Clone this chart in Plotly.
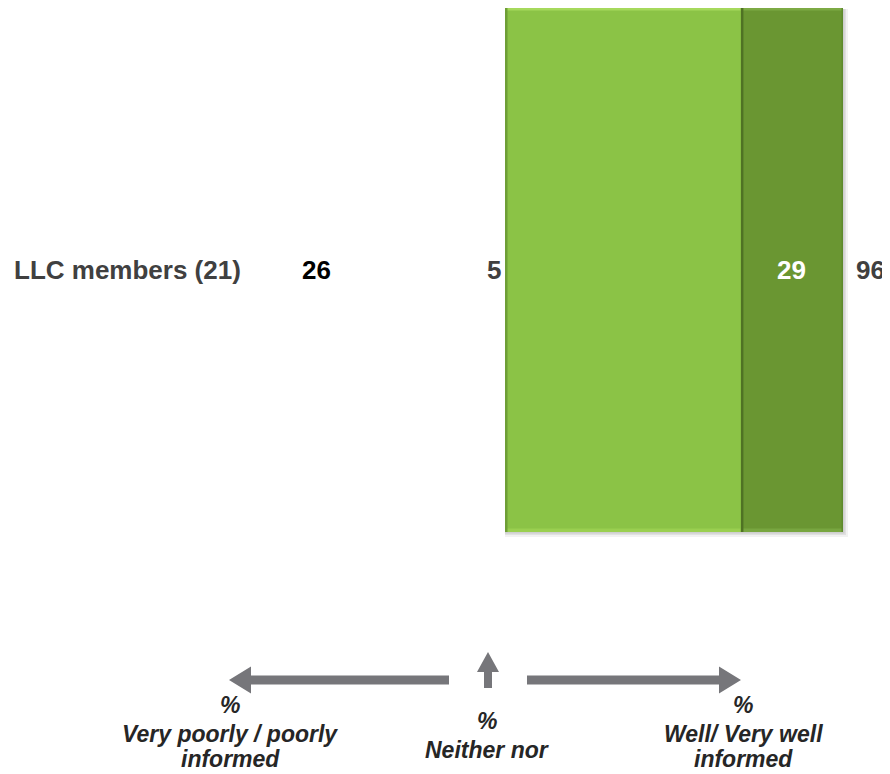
import plotly.graph_objects as go

# ---- data ----
categories = ["LLC members (21)"]
poorly = [26]          # Very poorly / poorly informed
neither = [5]          # Neither nor
well = [67]            # Well informed
very_well = [29]       # Very well informed
total_well = [96]      # Well / Very well informed

bottom_labels = [["%", "Very poorly / poorly", "informed"],
                 ["%", "Neither nor"],
                 ["%", "Well/ Very well", "informed"]]

# page has an 8px body margin -> figure drawn 8px right/down of page origin
OFF = 8
W, H = 890 - OFF, 774 - OFF
BAR_TOP_PAGE, BAR_BOT_PAGE = 8, 532
M_L, M_R = 0, 0
M_T = BAR_TOP_PAGE - OFF
M_B = H - (BAR_BOT_PAGE - OFF)
PX_PER_UNIT = 338 / 96.0
ZERO_PAGE = 505
ZERO_FIG = ZERO_PAGE - OFF
PLOT_W = W - M_L - M_R
x_range = [-(ZERO_FIG - M_L) / PX_PER_UNIT, (PLOT_W - (ZERO_FIG - M_L)) / PX_PER_UNIT]


def pxx(x_page):
    return (x_page - OFF - M_L) / PLOT_W


def pyy(y_page):
    return (H - M_B - (y_page - OFF)) / (H - M_T - M_B)


FONT = "Liberation Sans, Arial, sans-serif"

fig = go.Figure()
fig.add_trace(go.Bar(
    y=categories, x=well, orientation="h", name="Well informed",
    marker=dict(color="#8BC346", line=dict(width=0)),
    width=1, hoverinfo="skip",
))
fig.add_trace(go.Bar(
    y=categories, x=very_well, orientation="h", name="Very well informed",
    marker=dict(color="#6A9632", line=dict(width=0)),
    width=1, hoverinfo="skip",
))

shapes = []
# soft drop shadow behind the bar
for d, op in [(5, 0.10), (3, 0.14), (1.5, 0.18)]:
    shapes.append(dict(type="rect", xref="x", yref="paper", layer="below",
                       x0=0, x1=well[0] + very_well[0] + d / PX_PER_UNIT,
                       y0=pyy(BAR_BOT_PAGE + d), y1=pyy(BAR_TOP_PAGE + 1),
                       fillcolor="#808080", opacity=op, line=dict(width=0)))
# bevel strips on each segment
segs = [(0, well[0], "#A6D95C", "#9ACF50", "#6E9E36"),
        (well[0], well[0] + very_well[0], "#7DAA44", "#78A640", "#4F7224")]
for x0, x1, top_c, bot_c, left_c in segs:
    shapes.append(dict(type="rect", xref="x", yref="paper", layer="above",
                       x0=x0, x1=x1, y0=pyy(BAR_TOP_PAGE + 2.5), y1=pyy(BAR_TOP_PAGE),
                       fillcolor=top_c, line=dict(width=0)))
    shapes.append(dict(type="rect", xref="x", yref="paper", layer="above",
                       x0=x0, x1=x1, y0=pyy(BAR_BOT_PAGE), y1=pyy(BAR_BOT_PAGE - 3.5),
                       fillcolor=bot_c, line=dict(width=0)))
    shapes.append(dict(type="rect", xref="x", yref="paper", layer="above",
                       x0=x0, x1=x0 + 2.5 / PX_PER_UNIT, y0=pyy(BAR_BOT_PAGE), y1=pyy(BAR_TOP_PAGE),
                       fillcolor=left_c, line=dict(width=0)))
# right edge darker
shapes.append(dict(type="rect", xref="x", yref="paper", layer="above",
                   x0=well[0] + very_well[0] - 1.5 / PX_PER_UNIT, x1=well[0] + very_well[0],
                   y0=pyy(BAR_BOT_PAGE), y1=pyy(BAR_TOP_PAGE),
                   fillcolor="#5E8A2C", line=dict(width=0)))

ann = []
lab_font = dict(family=FONT, size=26, color="#404040")
ann.append(dict(x=0, y=categories[0], xref="x", yref="y", text="<b>%s</b>" % categories[0],
                showarrow=False, xanchor="right", yanchor="middle", xshift=-262,
                font=lab_font))
ann.append(dict(x=0, y=categories[0], xref="x", yref="y", text="<b>%d</b>" % poorly[0],
                showarrow=False, xanchor="center", yanchor="middle", xshift=-189,
                font=dict(family=FONT, size=26, color="#000000")))
ann.append(dict(x=0, y=categories[0], xref="x", yref="y", text="<b>%d</b>" % neither[0],
                showarrow=False, xanchor="right", yanchor="middle", xshift=-2,
                font=lab_font))
ann.append(dict(x=well[0] + very_well[0] / 2, y=categories[0], xref="x", yref="y",
                text="<b>%d</b>" % very_well[0], showarrow=False, xanchor="center", yanchor="middle",
                font=dict(family=FONT, size=26, color="#FFFFFF")))
ann.append(dict(x=well[0] + very_well[0], y=categories[0], xref="x", yref="y",
                text="<b>%d</b>" % total_well[0], showarrow=False, xanchor="left", yanchor="middle",
                xshift=11, font=lab_font))

bot_font = dict(family=FONT, size=23, color="#262626")
blocks = [(230, [705, 734, 759]), (487, [721, 750]), (743, [705, 734, 759])]
for (cx, ys), lines in zip(blocks, bottom_labels):
    for cy, line in zip(ys, lines):
        ann.append(dict(x=pxx(cx), y=pyy(cy), xref="paper", yref="paper",
                        text="<b><i>%s</i></b>" % line, showarrow=False, borderpad=0,
                        xanchor="center", yanchor="middle", align="center", font=bot_font))

AC = "#76767A"


def path(points):
    return "M " + " L ".join("%f,%f" % (pxx(x), pyy(y)) for x, y in points) + " Z"


ay = 680
shapes.append(dict(type="path", xref="paper", yref="paper", fillcolor=AC, line=dict(width=0),
                   path=path([(449, ay - 4.5), (251, ay - 4.5), (251, ay - 13.5), (229, ay),
                              (251, ay + 13.5), (251, ay + 4.5), (449, ay + 4.5)])))
shapes.append(dict(type="path", xref="paper", yref="paper", fillcolor=AC, line=dict(width=0),
                   path=path([(527, ay - 4.5), (719, ay - 4.5), (719, ay - 13.5), (741, ay),
                              (719, ay + 13.5), (719, ay + 4.5), (527, ay + 4.5)])))
shapes.append(dict(type="path", xref="paper", yref="paper", fillcolor=AC, line=dict(width=0),
                   path=path([(484, 688), (484, 672), (477, 672), (488, 652), (499, 672),
                              (492, 672), (492, 688)])))

fig.update_layout(
    width=W, height=H,
    margin=dict(l=M_L, r=M_R, t=M_T, b=M_B, pad=0),
    barmode="stack", bargap=0,
    plot_bgcolor="white", paper_bgcolor="white",
    showlegend=False,
    xaxis=dict(range=x_range, visible=False, fixedrange=True),
    yaxis=dict(range=[-0.5, 0.5], visible=False, fixedrange=True),
    annotations=ann, shapes=shapes,
)

fig.write_html("out.html")
